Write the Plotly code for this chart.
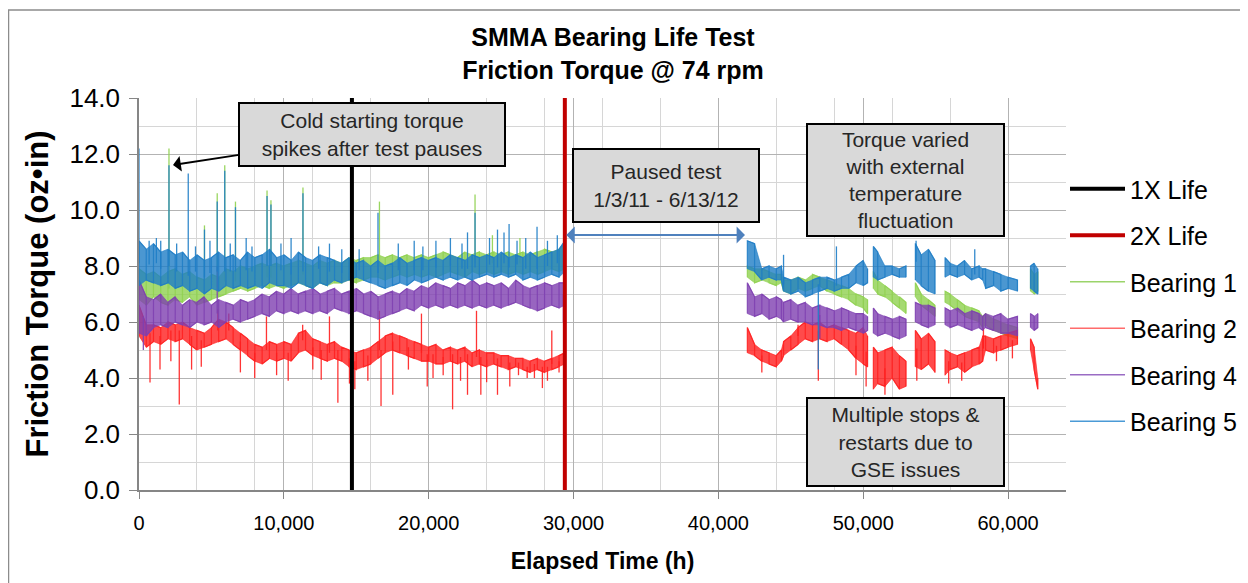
import plotly.graph_objects as go

# ---------------- data ----------------
# Segment 1: 0 .. 29,400 h, sampled every 500 h (band low / high)
T1 = [*range(0, 29001, 500), 29400]

B1_LO1 = [6.8, 6.6, 6.9, 6.7, 6.6, 6.8, 6.7, 6.9, 6.6, 6.7, 6.8, 6.9, 7.0, 7.1, 7.2, 7.1, 7.2, 7.3, 7.2, 7.3,
          7.2, 7.3, 7.4, 7.3, 7.2, 7.4, 7.3, 7.4, 7.4, 7.5, 7.4, 7.5, 7.6, 7.6, 7.5, 7.6, 7.7, 7.6, 7.7, 7.6,
          7.7, 7.6, 7.7, 7.8, 7.7, 7.6, 7.8, 7.7, 7.8, 7.7, 7.8, 7.7, 7.8, 7.7, 7.8, 7.7, 7.8, 7.9, 7.8, 7.9]
B1_HI1 = [7.9, 7.7, 7.8, 7.6, 7.8, 7.9, 7.7, 7.8, 7.6, 7.5, 7.7, 7.6, 7.9, 7.8, 8.0, 7.9, 8.0, 8.1, 8.0, 8.1,
          8.0, 8.1, 8.2, 8.1, 8.0, 8.2, 8.1, 8.2, 8.1, 8.3, 8.2, 8.3, 8.3, 8.4, 8.3, 8.4, 8.3, 8.4, 8.3, 8.4,
          8.3, 8.4, 8.5, 8.4, 8.3, 8.5, 8.4, 8.5, 8.4, 8.5, 8.4, 8.5, 8.4, 8.5, 8.4, 8.5, 8.6, 8.5, 8.6, 8.8]

B2_LO1 = [5.5, 5.1, 5.3, 5.2, 5.4, 5.3, 5.4, 5.2, 5.0, 5.1, 5.2, 5.3, 5.4, 5.2, 5.0, 4.8, 4.6, 4.5, 4.7, 4.6,
          4.7, 4.6, 4.9, 5.0, 4.8, 4.7, 4.6, 4.7, 4.6, 4.4, 4.3, 4.4, 4.5, 4.7, 4.9, 5.0, 4.9, 4.8, 4.7, 4.6,
          4.6, 4.5, 4.5, 4.6, 4.5, 4.6, 4.4, 4.5, 4.4, 4.5, 4.4, 4.3, 4.4, 4.3, 4.2, 4.3, 4.2, 4.3, 4.4, 4.5]
B2_HI1 = [6.6, 5.9, 5.9, 5.8, 6.0, 5.9, 6.0, 5.8, 5.7, 5.6, 5.8, 6.1, 6.0, 5.8, 5.6, 5.4, 5.2, 5.1, 5.3, 5.2,
          5.3, 5.2, 5.6, 5.7, 5.4, 5.3, 5.2, 5.3, 5.1, 5.0, 4.9, 5.0, 5.1, 5.3, 5.5, 5.6, 5.5, 5.4, 5.3, 5.2,
          5.1, 5.2, 5.0, 5.1, 5.0, 5.1, 4.9, 5.0, 4.9, 4.9, 4.8, 4.8, 4.7, 4.7, 4.6, 4.7, 4.6, 4.7, 4.8, 4.9]

B4_LO1 = [5.6, 5.5, 5.8, 5.9, 5.8, 6.0, 5.9, 5.8, 6.0, 5.9, 6.0, 5.8, 6.0, 6.1, 6.0, 6.1, 6.2, 6.3, 6.2, 6.4,
          6.3, 6.4, 6.3, 6.4, 6.3, 6.4, 6.3, 6.5, 6.4, 6.3, 6.4, 6.3, 6.2, 6.1, 6.2, 6.3, 6.4, 6.5, 6.4, 6.6,
          6.5, 6.6, 6.5, 6.6, 6.5, 6.6, 6.5, 6.6, 6.5, 6.6, 6.5, 6.6, 6.7, 6.6, 6.5, 6.4, 6.5, 6.6, 6.5, 6.6]
B4_HI1 = [7.5, 6.9, 6.8, 7.0, 6.7, 6.9, 6.6, 6.8, 6.7, 6.9, 6.6, 6.8, 6.7, 6.6, 6.8, 6.7, 6.8, 7.0, 6.9, 7.1,
          7.0, 7.2, 7.0, 7.1, 7.2, 7.0, 7.1, 7.2, 7.0, 7.1, 7.2, 7.0, 7.1, 6.9, 7.0, 7.1, 7.0, 7.2, 7.1, 7.3,
          7.2, 7.4, 7.3, 7.2, 7.4, 7.3, 7.5, 7.3, 7.4, 7.3, 7.4, 7.2, 7.5, 7.3, 7.2, 7.3, 7.4, 7.3, 7.4, 7.4]

B5_LO1 = [7.3, 7.5, 7.4, 7.3, 7.4, 7.2, 7.3, 7.1, 7.2, 7.0, 7.2, 7.1, 7.3, 7.2, 7.3, 7.2, 7.3, 7.2, 7.4, 7.3,
          7.3, 7.2, 7.4, 7.3, 7.2, 7.4, 7.3, 7.5, 7.4, 7.5, 7.6, 7.5, 7.4, 7.3, 7.2, 7.3, 7.4, 7.3, 7.5, 7.4,
          7.5, 7.6, 7.5, 7.6, 7.5, 7.6, 7.5, 7.6, 7.7, 7.6, 7.7, 7.6, 7.7, 7.5, 7.6, 7.5, 7.6, 7.7, 7.6, 7.8]
B5_HI1 = [8.9, 8.6, 8.8, 8.5, 8.6, 8.4, 8.5, 8.2, 8.4, 8.2, 8.3, 8.5, 8.3, 8.4, 8.2, 8.5, 8.3, 8.4, 8.6, 8.3,
          8.4, 8.2, 8.5, 8.3, 8.2, 8.4, 8.3, 8.2, 8.1, 8.3, 8.1, 8.2, 8.0, 8.2, 8.0, 8.1, 8.3, 8.1, 8.2, 8.3,
          8.2, 8.3, 8.2, 8.4, 8.3, 8.2, 8.4, 8.3, 8.4, 8.3, 8.5, 8.3, 8.4, 8.3, 8.5, 8.3, 8.4, 8.5, 8.6, 8.9]

# Segment 2: restarted test, runs separated by None
T2 = [42000, 42500, 43000, 43500, 44000, 44350, 44500, 45000, 45500, 46000, 46500, 47000, 47500, 48000,
      48500, 49000, 49500, 50000, 50300, None,
      50700, 51000, 51500, 52000, 52500, 52950, None,
      53600, 54000, 54500, 54950, None,
      55650, 56000, 56500, 57000, 57500, 58000, 58250, 58450, 59000, 59500, 60000, 60650, None,
      61550, 61800, 62050]

B1_LO2 = [7.6, 7.4, 7.5, 7.4, 7.3, 7.4, 7.1, 7.0, 7.2, 7.1, 7.2, 7.3, 7.1, 7.0, 6.9, 6.8, 6.6, 6.5, 6.3, None,
          7.2, 7.0, 6.9, 6.7, 6.5, 6.3, None,
          6.9, 6.6, 6.4, 6.2, None,
          6.7, 6.6, 6.4, 6.2, 6.1, 6.0, 5.8, 5.9, 5.7, 5.6, 5.5, 5.4, None,
          7.1, 7.0, 7.1]
B1_HI2 = [8.0, 7.9, 7.9, 7.8, 7.7, 7.7, 7.5, 7.5, 7.6, 7.5, 7.7, 7.6, 7.5, 7.4, 7.3, 7.2, 7.0, 6.9, 6.8, None,
          7.8, 7.5, 7.3, 7.1, 6.9, 6.7, None,
          7.4, 7.0, 6.8, 6.6, None,
          7.1, 7.0, 6.8, 6.6, 6.5, 6.4, 6.2, 6.3, 6.1, 6.0, 5.9, 5.8, None,
          7.9, 7.7, 7.8]

B2_LO2 = [4.9, 4.8, 4.6, 4.5, 4.4, 4.6, 4.8, 5.0, 5.2, 5.4, 5.3, 5.4, 5.3, 5.4, 5.2, 5.0, 4.7, 4.5, 4.4, None,
          3.6, 3.8, 3.7, 4.0, 3.6, 3.7, None,
          4.4, 4.3, 4.5, 4.2, None,
          4.1, 4.3, 4.4, 4.2, 4.4, 4.5, 4.6, 5.0, 4.9, 5.0, 5.1, 5.2, None,
          5.0, 4.3, 3.6]
B2_HI2 = [5.8, 5.2, 5.0, 4.9, 4.8, 5.0, 5.3, 5.5, 5.8, 6.0, 5.9, 6.0, 5.8, 5.9, 5.8, 5.7, 5.6, 5.8, 5.5, None,
          5.1, 4.9, 5.0, 5.1, 4.8, 4.6, None,
          5.7, 5.4, 5.6, 5.3, None,
          5.0, 4.9, 4.8, 4.9, 5.0, 5.1, 5.5, 5.5, 5.4, 5.5, 5.6, 5.7, None,
          5.4, 5.1, 4.0]

B4_LO2 = [6.3, 6.2, 6.3, 6.1, 6.2, 6.1, 6.0, 6.1, 6.0, 6.0, 5.9, 5.9, 5.8, 5.8, 5.7, 5.8, 5.7, 5.6, 5.7, None,
          5.6, 5.5, 5.6, 5.5, 5.4, 5.5, None,
          6.0, 5.9, 5.8, 5.9, None,
          5.9, 5.8, 5.9, 5.8, 5.7, 5.8, 5.7, 5.8, 5.7, 5.6, 5.6, 5.5, None,
          5.8, 5.7, 5.8]
B4_HI2 = [7.4, 6.9, 7.0, 6.8, 6.9, 6.8, 6.7, 6.8, 6.6, 6.7, 6.5, 6.6, 6.5, 6.4, 6.5, 6.4, 6.3, 6.3, 6.2, None,
          6.5, 6.3, 6.2, 6.1, 6.2, 6.1, None,
          6.7, 6.6, 6.6, 6.5, None,
          6.5, 6.4, 6.5, 6.3, 6.4, 6.3, 6.2, 6.3, 6.2, 6.3, 6.1, 6.2, None,
          6.3, 6.2, 6.3]

B5_LO2 = [7.9, 7.8, 7.5, 7.6, 7.5, 7.5, 7.1, 7.0, 7.1, 6.9, 7.0, 7.1, 7.2, 7.1, 7.2, 7.2, 7.4, 7.3, 7.4, None,
          7.6, 7.5, 7.6, 7.7, 7.6, 7.6, None,
          7.5, 7.3, 7.1, 7.0, None,
          7.6, 7.7, 7.6, 7.7, 7.5, 7.6, 7.5, 7.2, 7.3, 7.1, 7.2, 7.1, None,
          7.2, 7.1, 7.0]
B5_HI2 = [8.9, 8.8, 7.9, 8.0, 7.9, 8.0, 7.6, 7.5, 7.6, 7.4, 7.5, 7.6, 7.6, 7.5, 7.6, 7.7, 8.0, 8.2, 7.9, None,
          8.7, 8.5, 8.0, 8.0, 7.9, 8.0, None,
          8.8, 8.4, 8.6, 8.2, None,
          8.3, 8.1, 8.0, 8.2, 7.9, 8.0, 7.9, 7.9, 7.8, 7.7, 7.6, 7.5, None,
          8.0, 8.1, 7.9]

# Spikes (time, tip value)
B1_SPK_T = [2070, 4520, 5400, 5920, 6660, 8840, 9110, 11320, 16600, 23200, 24400, 26300]
B1_SPK_V = [12.2, 9.45, 10.6, 11.6, 10.3, 10.7, 10.35, 10.8, 10.3, 10.55, 9.1, 9.0]
B2_SPK_T = [760, 1450, 2200, 2780, 3630, 4300, 5440, 6200, 7000, 7990, 8800, 9500, 10300, 11300, 12000,
            12580, 13150, 13730, 14530, 14900, 15800, 16600, 16710, 17520, 18600, 19500, 19900, 20300,
            21000, 21650, 22200, 22680, 23300, 23600, 24000, 24750, 25600, 26200, 26800, 27300, 27850,
            28200, 28500, 29000,
            43000, 45500, 46900, 49500, 50200, 51500, 53700, 55900, 56800, 58300, 59200, 60300]
B2_SPK_V = [3.84, 4.3, 4.6, 3.05, 4.3, 4.4, 6.45, 6.3, 4.2, 4.0, 6.2, 4.1, 3.9, 5.9, 4.3,
            3.94, 6.2, 3.12, 3.8, 3.6, 3.9, 6.4, 3.0, 3.4, 4.3, 6.3, 3.7, 4.0,
            4.1, 2.88, 3.9, 3.4, 6.4, 3.4, 3.85, 3.4, 3.7, 4.1, 4.0, 4.0, 3.64,
            3.9, 5.7, 4.2,
            4.2, 5.9, 3.9, 4.1, 3.7, 3.4, 3.9, 3.8, 3.9, 5.8, 4.6, 4.7]
B4_SPK_T = [300, 5400, 14700, 29300, 47000]
B4_SPK_V = [5.0, 8.0, 5.8, 6.0, 5.4]
B5_SPK_T = [0, 700, 1200, 1500, 2070, 2600, 3400, 3900, 4520, 4900, 5400, 5920, 6300, 6660, 7400, 7800,
            8840, 9110, 9800, 10500, 11320, 12400, 13150, 14000, 15200, 16500, 17900, 19000, 19600,
            20500, 21500, 22300, 22680, 23200, 24200, 24750, 25200, 25550, 26100, 26700, 27480, 28200,
            28880, 44500, 46900, 48150, 53650, 57700]
B5_SPK_V = [12.2, 8.9, 9.0, 8.9, 11.6, 8.8, 11.3, 8.7, 9.3, 8.9, 10.3, 11.4, 8.8, 10.1, 9.0, 8.7,
            10.5, 10.2, 8.8, 9.0, 10.6, 8.7, 8.8, 8.6, 8.6, 9.9, 8.8, 8.9, 8.7,
            8.9, 9.0, 8.8, 9.2, 9.9, 9.0, 9.3, 9.2, 9.5, 8.9, 9.0, 9.4, 8.9,
            9.1, 8.4, 4.3, 8.7, 8.9, 8.6]

LIFE_NAMES = ["1X Life", "2X Life"]
LIFE_T = [14700, 29400]
Y_RANGE = [0, 14]
X_RANGE = [0, 64000]
X_MINOR = [4000, 8000, 12000, 16000, 24000, 28000, 32000, 36000, 44000, 48000, 52000, 56000, 64000]

SERIES = [
    ("Bearing 1", (143, 209, 79), B1_LO1, B1_HI1, B1_LO2, B1_HI2, B1_SPK_T, B1_SPK_V, "#9BD46A"),
    ("Bearing 2", (255, 30, 30), B2_LO1, B2_HI1, B2_LO2, B2_HI2, B2_SPK_T, B2_SPK_V, "#FF6B6B"),
    ("Bearing 4", (126, 63, 176), B4_LO1, B4_HI1, B4_LO2, B4_HI2, B4_SPK_T, B4_SPK_V, "#9A6CC4"),
    ("Bearing 5", (30, 125, 198), B5_LO1, B5_HI1, B5_LO2, B5_HI2, B5_SPK_T, B5_SPK_V, "#4A9AD6"),
]

FONT = "Liberation Sans, Arial, sans-serif"


def runs(ts, lo, hi):
    out, cur = [], ([], [], [])
    for t, a, b in zip(ts, lo, hi):
        if t is None:
            if cur[0]:
                out.append(cur)
            cur = ([], [], [])
        else:
            cur[0].append(t); cur[1].append(a); cur[2].append(b)
    if cur[0]:
        out.append(cur)
    return out


def base_at(t, groups):
    best, bd = None, None
    for ts, lo, hi in groups:
        for tt, a, b in zip(ts, lo, hi):
            d = abs(tt - t)
            if bd is None or d < bd:
                bd, best = d, (a + b) / 2
    return best


def rgba(c, a):
    return "rgba(%d,%d,%d,%.2f)" % (c[0], c[1], c[2], a)


fig = go.Figure()
rank = 3
for name, c, lo1, hi1, lo2, hi2, st, sv, legcol in SERIES:
    groups = runs(T1, lo1, hi1) + runs(T2, lo2, hi2)
    for ts, lo, hi in groups:
        fig.add_trace(go.Scatter(x=ts + ts[::-1], y=hi + lo[::-1], fill="toself", fillcolor=rgba(c, 0.8),
                                 mode="lines", line=dict(color=rgba(c, 0.6), width=1), showlegend=False,
                                 hoverinfo="skip"))
        zx, zy = [], []
        for k, (t, a, b) in enumerate(zip(ts, lo, hi)):
            zx += [t, t]
            zy += [a, b] if k % 2 == 0 else [b, a]
        fig.add_trace(go.Scatter(x=zx, y=zy, mode="lines", line=dict(color=rgba(c, 0.85), width=1.2),
                                 showlegend=False, hoverinfo="skip"))
    sx, sy = [], []
    for t, v in zip(st, sv):
        sx += [t, t, None]
        sy += [base_at(t, groups), v, None]
    fig.add_trace(go.Scatter(x=sx, y=sy, mode="lines", line=dict(color=rgba(c, 0.9), width=1.3),
                             showlegend=False, hoverinfo="skip"))
    fig.add_trace(go.Scatter(x=[None], y=[None], mode="lines", line=dict(color=legcol, width=1.5),
                             name=name, legendgroup=name, legendrank=rank))
    rank += 1

life_cols = ["#000000", "#C00000"]
for i, (nm, t) in enumerate(zip(LIFE_NAMES, LIFE_T)):
    fig.add_trace(go.Scatter(x=[t, t], y=Y_RANGE, mode="lines", line=dict(color=life_cols[i], width=4),
                             name=nm, legendgroup=nm, legendrank=i + 1, hoverinfo="skip"))

# page body has an 8 px margin: the figure is laid out in reference pixels minus OFF
OFF = 8
W, H = 1248 - OFF, 583 - OFF
L, R, T, B = 139 - OFF, 1066 - OFF, 98 - OFF, 490 - OFF


def px2x(px):  # reference pixel -> data x
    return (px - OFF - L) / (R - L) * (X_RANGE[1] - X_RANGE[0])


def px2y(py):  # reference pixel -> data y
    return (B - (py - OFF)) / (B - T) * (Y_RANGE[1] - Y_RANGE[0])


box = dict(font=dict(family=FONT, size=21, color="#262626"), bgcolor="#D9D9D9",
           bordercolor="#000000", borderwidth=2, borderpad=2, xref="x", yref="y")

ann = [
    dict(text="Cold starting torque<br>spikes after test pauses", x=px2x(173), y=px2y(165),
         ax=372 - 173, ay=134.5 - 165, showarrow=True, arrowhead=1, arrowsize=1.3, arrowwidth=2,
         arrowcolor="#000000", width=260, height=57, **box),
    dict(text="Paused test<br>1/3/11 - 6/13/12", x=px2x(666), y=px2y(185.5), showarrow=False,
         xanchor="center", yanchor="middle", width=180, height=67, **box),
    dict(text="Torque varied<br>with external<br>temperature<br>fluctuation", x=px2x(905.5), y=px2y(180),
         xanchor="center", yanchor="middle", showarrow=False, width=191, height=106, **box),
    dict(text="Multiple stops &amp;<br>restarts due to<br>GSE issues", x=px2x(905.5), y=px2y(442),
         xanchor="center", yanchor="middle", showarrow=False, width=191, height=82, **box),
    dict(text="", x=px2x(745), y=px2y(235), ax=LIFE_T[1], ay=px2y(235), axref="x", ayref="y",
         xref="x", yref="y", showarrow=True, arrowhead=1, startarrowhead=1, arrowside="end+start",
         arrowsize=1.4, startarrowsize=1.4, arrowwidth=2, arrowcolor="#4F81BD"),
]

fig.update_layout(
    width=W, height=H, margin=dict(l=L, r=W - R, t=T, b=H - B, autoexpand=False),
    paper_bgcolor="white", plot_bgcolor="white",
    font=dict(family=FONT, color="#000000"),
    title=dict(text="<b>SMMA Bearing Life Test<br>Friction Torque @ 74 rpm</b>", x=(613 - OFF) / W,
               xref="container", xanchor="center", y=1 - 38 / H, yref="container", yanchor="top",
               font=dict(family=FONT, size=25, color="#000000")),
    showlegend=True,
    legend=dict(x=(1065 - OFF - L) / (R - L), y=(B - (166 - OFF)) / (B - T), xanchor="left", yanchor="top",
                font=dict(family=FONT, size=25, color="#000000"), traceorder="grouped",
                tracegroupgap=11, itemwidth=55, bgcolor="rgba(0,0,0,0)"),
    annotations=ann,
    shapes=[dict(type="rect", xref="paper", yref="paper",
                 x0=(0.5 - L) / (R - L), x1=(1260 - L) / (R - L),
                 y0=(B - 600) / (B - T), y1=(B - 2) / (B - T),
                 line=dict(color="#8C8C8C", width=1.5), fillcolor="rgba(0,0,0,0)", layer="below")],
)

fig.update_xaxes(range=X_RANGE, dtick=10000, tick0=0, tickformat=",d", showgrid=True, automargin=False,
                 gridcolor="#B3B3B3", gridwidth=1.2, zeroline=False,
                 minor=dict(tickmode="array", tickvals=X_MINOR, showgrid=True, gridcolor="#D6D6D6",
                            gridwidth=1, ticks=""),
                 showline=True, linecolor="#868686", linewidth=1.5, ticks="outside", ticklen=7,
                 tickcolor="#868686", ticklabelstandoff=7,
                 tickfont=dict(family=FONT, size=20, color="#000000"),
                 title=dict(text="<b>Elapsed Time (h)</b>", font=dict(family=FONT, size=23), standoff=20))
fig.update_yaxes(range=Y_RANGE, dtick=2, tick0=0, tickformat=".1f", showgrid=True, automargin=False,
                 gridcolor="#B3B3B3", gridwidth=1.2, zeroline=False,
                 minor=dict(dtick=1, showgrid=True, gridcolor="#D6D6D6", gridwidth=1, ticks=""),
                 showline=True, linecolor="#868686", linewidth=1.5, ticks="outside", ticklen=8,
                 tickcolor="#868686", ticklabelstandoff=4,
                 tickfont=dict(family=FONT, size=26, color="#000000"),
                 title=dict(text="<b>Friction Torque (oz•in)</b>", font=dict(family=FONT, size=31),
                            standoff=12))

fig.write_html("out.html")
